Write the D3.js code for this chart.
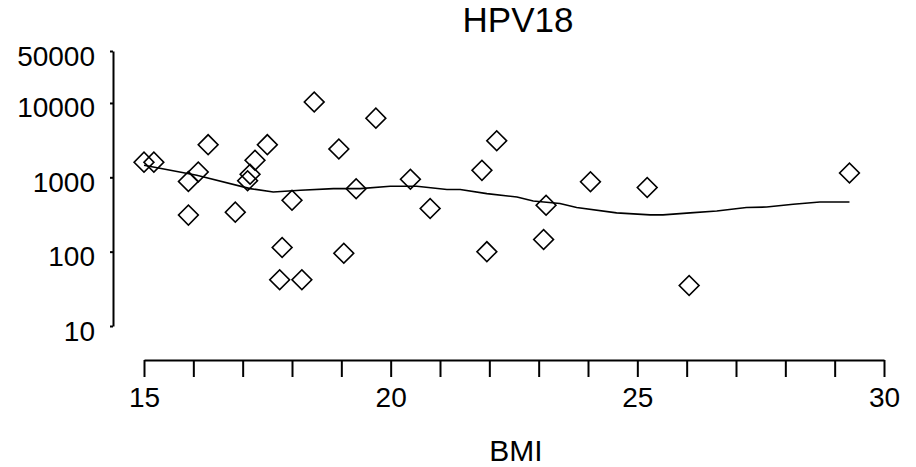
<!DOCTYPE html>
<html>
<head>
<meta charset="utf-8">
<script src="https://cdn.jsdelivr.net/npm/d3@7"></script>
<style>
  body { margin: 0; background: #fff; }
  text { font-family: Arial, "Liberation Sans", sans-serif; fill: #000; }
</style>
</head>
<body>
<div id="chart"></div>
<script>
// Data
const bmi = [15.0, 15.2, 16.3, 16.1, 15.9, 15.9, 16.85, 17.5, 17.25, 17.15, 17.1, 18.45, 18.95, 18.0, 19.3, 17.8, 19.05, 17.75, 18.2, 19.7, 20.4, 20.8, 22.15, 21.85, 23.15, 24.05, 21.95, 23.1, 25.2, 26.05, 29.3]
const hpv18 = [1600, 1600, 2750, 1180, 880, 310, 340, 2750, 1700, 1100, 900, 10300, 2400, 490, 700, 114, 95, 42, 42, 6250, 940, 380, 3100, 1240, 420, 870, 100, 146, 730, 35, 1140]

// Smoothed curve
const smoothX = [15.0, 16.07, 17.15, 17.62, 18.17, 18.84, 19.38, 19.99, 20.53, 21.14, 21.41, 21.95, 22.56, 22.89, 23.43, 23.77, 24.58, 25.26, 25.52, 26.07, 26.61, 27.21, 27.62, 28.16, 28.7, 29.3]
const smoothY = [1450, 1065, 705, 635, 670, 705, 705, 757, 757, 684, 684, 604, 544, 481, 444, 392, 332, 312, 312, 332, 353, 392, 398, 435, 466, 466]

const yTicks = [10, 100, 1000, 10000, 50000]
const xTicks = d3.range(15, 31)

const width = 916
const height = 467

const svg = d3.select("#chart").append("svg")
    .attr("width", width)
    .attr("height", height)

const x = d3.scaleLinear()
  .domain([15, 30])
  .range([144, 884])

const y = d3.scaleLog()
  .domain([10, 50000])
  .range([326, 51])

// Y axis
const yAxis = svg.append("g")
  .attr("transform", "translate(113,0)")
  .call(d3.axisLeft(y).tickValues(yTicks).tickSize(3).tickSizeOuter(0).tickPadding(15).tickFormat(d3.format("d")))
yAxis.selectAll("text").attr("font-size", 28).attr("dy", "0.5em")

// X axis
const xAxis = svg.append("g")
  .attr("transform", "translate(0,360)")
  .call(d3.axisBottom(x).tickValues(xTicks).tickSize(17).tickSizeOuter(0).tickPadding(10)
    .tickFormat(d => d % 5 === 0 ? d : ""))
xAxis.selectAll("text").attr("font-size", 28)

svg.selectAll(".domain, .tick line").attr("stroke", "#000").attr("stroke-width", 2)

// Title and axis label
svg.append("text")
  .attr("x", 518)
  .attr("y", 32)
  .attr("text-anchor", "middle")
  .attr("font-size", 35)
  .text("HPV18")

svg.append("text")
  .attr("x", 516)
  .attr("y", 461)
  .attr("text-anchor", "middle")
  .attr("font-size", 30)
  .text("BMI")

// Smooth line
const line = d3.line()
  .x(d => x(d[0]))
  .y(d => y(d[1]))

svg.append("path")
  .datum(d3.zip(smoothX, smoothY))
  .attr("fill", "none")
  .attr("stroke", "#000")
  .attr("stroke-width", 1.6)
  .attr("d", line)

// Diamonds
svg.selectAll(".pt")
  .data(d3.zip(bmi, hpv18))
  .join("path")
  .attr("class", "pt")
  .attr("d", d3.symbol(d3.symbolSquare, 196))
  .attr("transform", d => `translate(${x(d[0])},${y(d[1])}) rotate(45)`)
  .attr("fill", "none")
  .attr("stroke", "#000")
  .attr("stroke-width", 1.6)
</script>
</body>
</html>
